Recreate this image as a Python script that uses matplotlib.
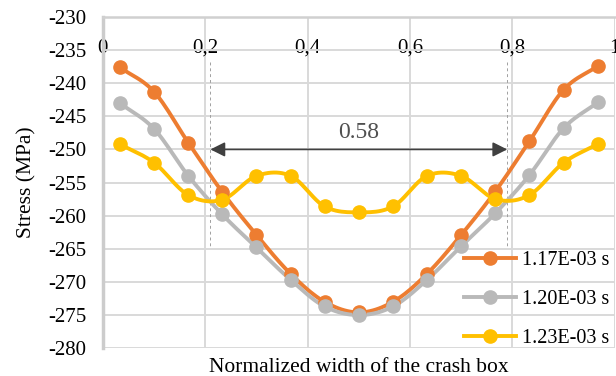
import numpy as np
import matplotlib.pyplot as plt

plt.rcParams['font.family'] = ['Liberation Serif', 'DejaVu Serif']
plt.rcParams['axes.unicode_minus'] = False

# Stress across the normalized width of the crash box, three time steps
x_pos = [0.033, 0.1, 0.167, 0.233, 0.3, 0.367, 0.433, 0.5,
         0.567, 0.633, 0.7, 0.767, 0.833, 0.9, 0.967]
stress_117 = [-237.6, -241.3, -249.0, -256.4, -262.9, -268.8, -273.0, -274.6,
              -273.0, -268.8, -262.9, -256.3, -248.8, -241.0, -237.4]
stress_120 = [-243.0, -246.9, -254.0, -259.8, -264.8, -269.7, -273.7, -275.0,
              -273.7, -269.7, -264.6, -259.6, -253.9, -246.8, -242.9]
stress_123 = [-249.2, -252.0, -256.9, -257.6, -254.0, -254.0, -258.6, -259.5,
              -258.6, -254.0, -254.0, -257.5, -256.9, -252.0, -249.2]
labels = ['1.17E-03 s', '1.20E-03 s', '1.23E-03 s']
colors = ['#ED7D31', '#B9B9B9', '#FFC000']

xticks = [0, 0.2, 0.4, 0.6, 0.8, 1.0]
xtick_labels = ['0', '0,2', '0,4', '0,6', '0,8', '1']
yticks = list(range(-280, -229, 5))

span_left, span_right = 0.21, 0.79
span_text = '0.58'


def smooth(xs, ys, n=12):
    # Catmull-Rom curve through the points, like a smoothed line in a spreadsheet
    xs = np.asarray(xs, float)
    ys = np.asarray(ys, float)
    px = np.concatenate([[2 * xs[0] - xs[1]], xs, [2 * xs[-1] - xs[-2]]])
    py = np.concatenate([[2 * ys[0] - ys[1]], ys, [2 * ys[-1] - ys[-2]]])
    out_x, out_y = [], []
    t = np.linspace(0, 1, n, endpoint=False)
    for i in range(1, len(px) - 2):
        for arr, out in ((px, out_x), (py, out_y)):
            p0, p1, p2, p3 = arr[i - 1:i + 3]
            out.extend(0.5 * (2 * p1 + (-p0 + p2) * t
                              + (2 * p0 - 5 * p1 + 4 * p2 - p3) * t ** 2
                              + (-p0 + 3 * p1 - 3 * p2 + p3) * t ** 3))
    out_x.append(xs[-1])
    out_y.append(ys[-1])
    return out_x, out_y


fig = plt.figure(figsize=(6.16, 3.76), dpi=100)
ax = fig.add_axes([0.167, 0.074, 0.831, 0.881])

for series, color, label in zip([stress_117, stress_120, stress_123], colors, labels):
    sx, sy = smooth(x_pos, series)
    ax.plot(sx, sy, color=color, linewidth=2.8, zorder=3)
    ax.plot(x_pos, series, 'o', color=color, markersize=9.5, zorder=4)
    ax.plot([], [], color=color, linewidth=2.8, marker='o', markersize=9.5, label=label)

ax.set_xlim(0, 1)
ax.set_ylim(-280, -230)
ax.set_xticks(xticks)
ax.set_xticklabels(xtick_labels)
ax.set_yticks(yticks)
ax.tick_params(axis='x', top=False, bottom=False, labeltop=True, labelbottom=False,
               pad=-33, labelsize=15)
ax.tick_params(axis='y', length=0, pad=12, labelsize=15)
ax.grid(True, color='#d9d9d9', linewidth=1.4)
ax.set_axisbelow(True)

for side in ['right', 'bottom']:
    ax.spines[side].set_visible(False)
ax.spines['top'].set_color('#d0d0d0')
ax.spines['top'].set_linewidth(1.8)
ax.spines['left'].set_color('#cccccc')
ax.spines['left'].set_linewidth(2.5)

ax.set_xlabel('Normalized width of the crash box', fontsize=15.5, labelpad=7)
ax.set_ylabel('Stress (MPa)', fontsize=15.5, labelpad=8)

# dimension marker between the two dashed guides
for xv in (span_left, span_right):
    ax.plot([xv, xv], [-236.8, -264.8], color='#a0a0a0', linewidth=0.7,
            linestyle=(0, (3, 3)), zorder=2)
ax.annotate('', xy=(span_left, -250), xytext=(span_right, -250),
            arrowprops=dict(arrowstyle='<|-|>', color='#404040', linewidth=1.2,
                            mutation_scale=22, shrinkA=0, shrinkB=0), zorder=5)
ax.text(0.5, -247.4, span_text, ha='center', va='center', fontsize=17,
        color='#505050', zorder=5)

ax.legend(loc='lower right', bbox_to_anchor=(1.01, -0.03), frameon=False,
          fontsize=14.5, handlelength=2.6, handletextpad=0.3,
          labelspacing=1.0, borderaxespad=0.1)

fig.savefig('out.png', dpi=100)
